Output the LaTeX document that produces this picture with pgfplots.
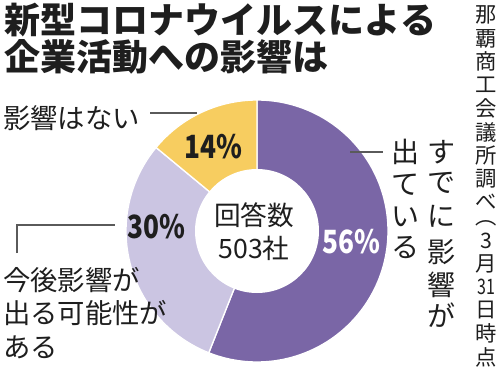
\documentclass[border=0pt]{standalone}
\usepackage{pgfplots}
\pgfplotsset{compat=1.18}
\usepackage{pgfplotstable}
\usepackage{graphicx}
\usepackage{fontspec}
\setmainfont{Noto Sans CJK JP}[Kerning=Off]
\definecolor{cpurple}{RGB}{122,102,166}
\definecolor{clav}{RGB}{203,197,226}
\definecolor{cyel}{RGB}{247,205,96}
\definecolor{ctext}{RGB}{30,30,30}
\definecolor{cline}{RGB}{90,90,90}

\pgfplotstableread{
label share
already 56
future 30
none 14
}\sharetable
\pgfplotstablegetelem{0}{share}\of\sharetable\let\sA\pgfplotsretval
\pgfplotstablegetelem{1}{share}\of\sharetable\let\sB\pgfplotsretval
\pgfplotstablegetelem{2}{share}\of\sharetable\let\sC\pgfplotsretval
\pgfmathsetmacro\aA{90-3.6*\sA}
\pgfmathsetmacro\aB{\aA-3.6*\sB}
\pgfmathsetmacro\aC{\aB-3.6*\sC}
% one character of vertical text: size, x, y, char
\newcommand\vc[4]{\node[inner sep=0,text=ctext,font=\fontsize{#1}{#1}\selectfont] at (axis cs:#2,#3) {#4};}

\begin{document}%
\begin{tikzpicture}
\begin{axis}[x=0.75pt,y=0.75pt,xmin=0,xmax=500,ymin=0,ymax=371,
  y dir=reverse,hide axis,clip=false]
\coordinate (BL) at (axis cs:0,371);
\coordinate (TR) at (axis cs:500,0);
% donut wedges
\fill[cpurple,draw=white,line width=1pt] (axis cs:257,231) -- ++(90:98.25pt) arc[start angle=90,end angle=\aA,radius=98.25pt] -- cycle;
\fill[clav,draw=white,line width=1pt] (axis cs:257,231) -- ++(\aA:98.25pt) arc[start angle=\aA,end angle=\aB,radius=98.25pt] -- cycle;
\fill[cyel,draw=white,line width=1pt] (axis cs:257,231) -- ++(\aB:98.25pt) arc[start angle=\aB,end angle=\aC,radius=98.25pt] -- cycle;
\fill[white] (axis cs:257,231) circle[radius=46.5pt];
% title
\node[anchor=west,inner sep=0,text=ctext,font=\fontsize{27pt}{28pt}\selectfont\bfseries] at (axis cs:4,20) {新型コロナウイルスによる};
\node[anchor=west,inner sep=0,text=ctext,font=\fontsize{27pt}{28pt}\selectfont\bfseries] at (axis cs:4,57) {企業活動への影響は};
% center
\node[inner sep=0,text=ctext,font=\fontsize{20pt}{24pt}\selectfont] at (axis cs:254,215) {回答数};
\node[inner sep=0,text=ctext,font=\fontsize{20pt}{24pt}\selectfont] at (axis cs:254,248) {503社};
% percentages
\node[inner sep=0,text=ctext,font=\fontsize{24pt}{26pt}\selectfont\bfseries] at (axis cs:213,147) {\scalebox{0.82}[1]{14\%}};
\node[inner sep=0,text=ctext,font=\fontsize{24pt}{26pt}\selectfont\bfseries] at (axis cs:156,227) {\scalebox{0.82}[1]{30\%}};
\node[inner sep=0,text=white,font=\fontsize{24pt}{26pt}\selectfont\bfseries] at (axis cs:351,242) {\scalebox{0.82}[1]{56\%}};
% left labels
\node[anchor=west,inner sep=0,text=ctext,font=\fontsize{20.5pt}{24pt}\selectfont] at (axis cs:3,118) {影響はない};
\draw[cline,line width=0.8pt] (axis cs:150,113) -- (axis cs:197,113);
\node[anchor=west,inner sep=0,text=ctext,font=\fontsize{20.5pt}{24pt}\selectfont] at (axis cs:3,280) {今後影響が};
\node[anchor=west,inner sep=0,text=ctext,font=\fontsize{20.5pt}{24pt}\selectfont] at (axis cs:3,313) {出る可能性が};
\node[anchor=west,inner sep=0,text=ctext,font=\fontsize{20.5pt}{24pt}\selectfont] at (axis cs:3,347) {ある};
\draw[cline,line width=0.8pt] (axis cs:17,253) -- (axis cs:17,225) -- (axis cs:115,225);
% right vertical label
\draw[cline,line width=0.8pt] (axis cs:350,152) -- (axis cs:383,152);
\vc{21pt}{441}{152}{す}
\vc{21pt}{441}{183}{で}
\vc{21pt}{441}{216}{に}
\vc{21pt}{441}{252}{影}
\vc{21pt}{441}{285}{響}
\vc{21pt}{441}{315}{が}
\vc{21pt}{405}{152}{出}
\vc{21pt}{405}{185}{て}
\vc{21pt}{405}{217}{い}
\vc{21pt}{405}{248}{る}
% source (vertical)
\vc{16pt}{486}{15}{那}
\vc{16pt}{486}{38.4}{覇}
\vc{16pt}{486}{61.8}{商}
\vc{16pt}{486}{85.2}{工}
\vc{16pt}{486}{108.6}{会}
\vc{16pt}{486}{132}{議}
\vc{16pt}{486}{155.4}{所}
\vc{16pt}{486}{178.8}{調}
\vc{16pt}{486}{201.5}{べ}
\vc{16pt}{486}{223}{︵}
\vc{16pt}{486}{240.5}{3}
\vc{16pt}{486}{263.8}{月}
\vc{16pt}{486}{287}{\scalebox{0.75}[1]{31}}
\vc{16pt}{486}{310.3}{日}
\vc{16pt}{486}{333.6}{時}
\vc{16pt}{486}{357}{点}
\end{axis}
\pgfresetboundingbox
\path[use as bounding box] (BL) rectangle (TR);
\end{tikzpicture}%
\end{document}
